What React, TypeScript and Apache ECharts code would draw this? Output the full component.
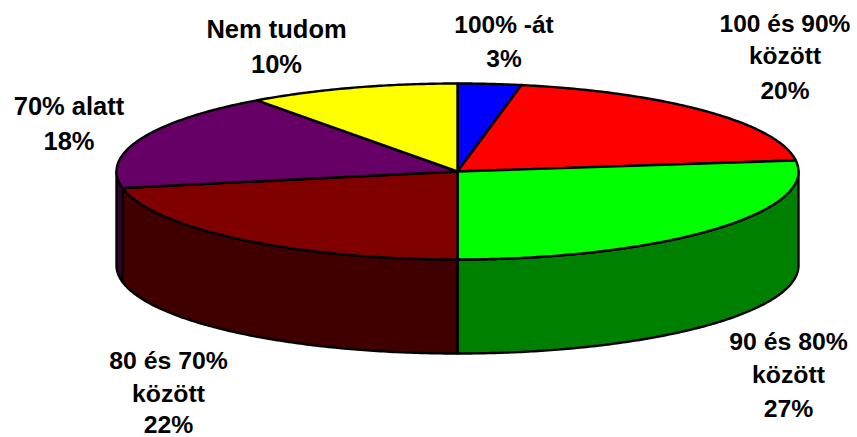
import React, { useEffect, useRef } from "react";
import * as echarts from "echarts";

const sliceNames = ["100% -át", "100 és 90%\nközött", "90 és 80%\nközött", "80 és 70%\nközött", "70% alatt", "Nem tudom"];
const sliceValues = [3, 20, 27, 22, 18, 10];
const topColors = ["#0000ff", "#ff0000", "#00ff00", "#800000", "#660066", "#ffff00"];
const sideColors = ["#000080", "#800000", "#008000", "#400000", "#330033", "#808000"];
const labelX = [504, 785, 788.5, 168.5, 69, 276.5];
const labelLineY = [[24, 58.5], [23.5, 55.5, 90.5], [341, 374, 408], [360, 393, 424], [106, 141], [29, 64]];
const labelSize = [24.5, 24.5, 24.8, 24.8, 25.5, 25.5];

const CX = 457.5, CY = 171.5, RX = 341, RY = 88, DEPTH = 94;
const total = sliceValues.reduce((a, b) => a + b, 0);
const starts: number[] = [];
sliceValues.reduce((acc, v, i) => { starts[i] = acc; return acc + v; }, 0);

const angle = (v: number) => (v / total) * Math.PI * 2;
const rim = (t: number, dy = 0): number[] => [CX + RX * Math.sin(t), CY - RY * Math.cos(t) + dy];
const arc = (a: number, b: number, dy = 0): number[][] => {
  const n = Math.max(2, Math.ceil(Math.abs(b - a) / 0.01));
  const out: number[][] = [];
  for (let i = 0; i <= n; i++) out.push(rim(a + ((b - a) * i) / n, dy));
  return out;
};

const renderSide = (_: unknown, api: any) => {
  const i = api.value(1) as number;
  const a = Math.max(angle(starts[i]), Math.PI / 2);
  const b = Math.min(angle(starts[i] + sliceValues[i]), (Math.PI * 3) / 2);
  if (b <= a) return { type: "group", children: [] };
  return {
    type: "polygon",
    shape: { points: [...arc(a, b), ...arc(b, a, DEPTH)] },
    style: { fill: sideColors[i], stroke: "#000", lineWidth: 2.4, lineJoin: "round" },
  };
};

const renderTop = (_: unknown, api: any) => {
  const i = api.value(1) as number;
  const a = angle(starts[i]);
  const b = angle(starts[i] + sliceValues[i]);
  return {
    type: "polygon",
    shape: { points: [[CX, CY], ...arc(a, b)] },
    style: { fill: topColors[i], stroke: "#000", lineWidth: 2.4, lineJoin: "round" },
  };
};

export default function App() {
  const ref = useRef<HTMLDivElement>(null);
  useEffect(() => {
    document.body.style.margin = "0";
    const chart = echarts.init(ref.current!, null, { renderer: "svg" });
    const seriesData = sliceValues.map((v, i) => ({ name: sliceNames[i], value: [v, i] }));
    const labels = sliceNames.flatMap((name, i) =>
      [...name.split("\n"), `${sliceValues[i]}%`].map((line, j) => ({
        type: "text",
        x: labelX[i],
        y: labelLineY[i][j],
        silent: true,
        style: {
          text: line,
          fill: "#000",
          font: `bold ${labelSize[i]}px "Liberation Sans", Arial, sans-serif`,
          textAlign: "center",
          textVerticalAlign: "middle",
          lineHeight: 20,
        },
      }))
    );
    chart.setOption({
      animation: false,
      backgroundColor: "#ffffff",
      series: [
        { type: "custom", coordinateSystem: "none", silent: true, renderItem: renderSide, data: seriesData, z: 1 },
        { type: "custom", coordinateSystem: "none", silent: true, renderItem: renderTop, data: seriesData, z: 2 },
      ],
      graphic: labels,
    });
    return () => chart.dispose();
  }, []);
  return <div ref={ref} style={{ width: 857, height: 437 }} />;
}
